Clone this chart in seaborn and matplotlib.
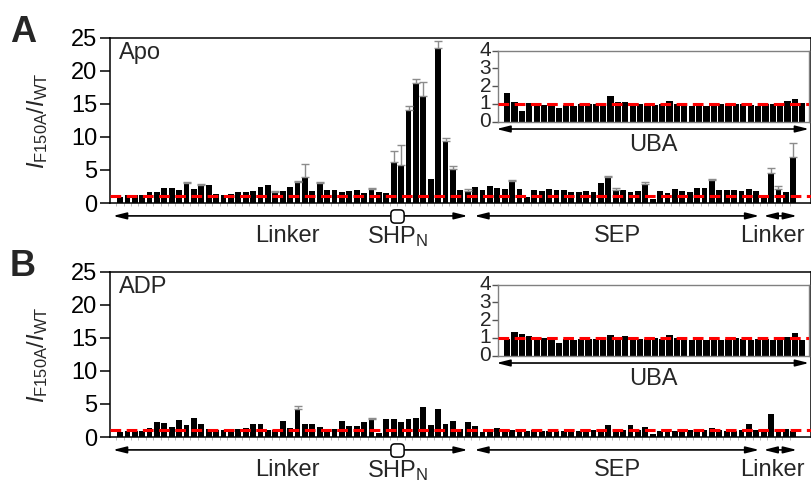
import numpy as np
import pandas as pd
import matplotlib
matplotlib.use("Agg")
import matplotlib.pyplot as plt
import matplotlib.transforms as mtransforms
import matplotlib.patches as mpatches
import seaborn as sns

# Per-residue intensity ratio I(F150A)/I(WT), full-length construct
apo_ratio = [0.9, 1.2, 1.2, 1.2, 1.65, 1.65, 2.25, 2.25, 1.9, 3.0,
             2.1, 2.75, 2.75, 1.4, 1.2, 1.35, 1.65, 1.65, 1.8, 2.35,
             2.65, 1.65, 1.75, 2.4, 3.1, 3.9, 1.85, 3.0, 1.9, 2.0,
             1.7, 1.75, 1.95, 1.55, 2.1, 1.6, 1.55, 6.2, 5.7, 14.1,
             18.1, 16.2, 3.6, 23.4, 9.4, 5.1, 1.9, 1.75, 2.35, 2.0,
             2.55, 2.25, 2.05, 3.25, 2.15, 0.9, 1.95, 1.75, 2.05, 1.9,
             1.9, 1.7, 1.6, 1.75, 1.65, 3.0, 4.0, 1.9, 1.9, 1.6,
             1.75, 2.9, 0.65, 1.75, 1.5, 2.1, 1.75, 1.6, 2.25, 2.25,
             3.4, 2.0, 2.0, 1.9, 1.75, 2.15, 1.85, 1.0, 4.5, 2.1,
             1.7, 6.9]
apo_err = [0, 0, 0, 0, 0, 0, 0, 0, 0, 0.2,
           0, 0.15, 0, 0, 0, 0, 0, 0, 0, 0,
           0, 0.2, 0, 0, 0.2, 2.0, 0, 0.2, 0, 0,
           0, 0, 0, 0, 0.2, 0, 0, 1.6, 3.0, 0.5,
           0.7, 2.1, 0, 1.1, 0.4, 0.5, 0, 0.3, 0, 0,
           0, 0, 0, 0.2, 0, 0, 0, 0, 0, 0,
           0, 0, 0, 0, 0, 0, 0.15, 0.3, 0, 0,
           0, 0.2, 0, 0, 0, 0, 0, 0, 0, 0,
           0.15, 0, 0, 0, 0, 0, 0, 0, 0.75, 0.4,
           0, 2.1]

adp_ratio = [0.76, 0.9, 0.9, 0.9, 1.3, 2.2, 2.1, 1.5, 2.5, 1.8,
             2.8, 2.0, 1.15, 1.05, 1.05, 1.05, 1.25, 1.35, 1.9, 1.9,
             1.0, 1.05, 2.35, 1.4, 4.2, 1.9, 1.9, 1.5, 1.25, 1.25,
             2.35, 1.6, 1.6, 2.3, 2.7, 0.65, 2.65, 2.7, 2.3, 2.7,
             2.9, 4.55, 1.75, 4.2, 1.9, 2.4, 1.15, 2.3, 1.65, 0.75,
             1.15, 1.4, 1.0, 1.0, 0.95, 0.95, 1.0, 0.95, 0.95, 0.95,
             0.9, 0.95, 0.95, 0.9, 1.0, 1.1, 1.85, 1.0, 1.1, 1.75,
             1.0, 1.55, 0.4, 0.95, 0.95, 0.95, 0.95, 1.0, 0.95, 1.0,
             1.35, 1.0, 0.95, 0.95, 1.0, 1.9, 1.0, 1.0, 3.4, 1.25,
             1.25, 0.9]
adp_err = [0] * 24 + [0.5] + [0] * 9 + [0.15] + [0] * 57

# UBA domain ratios (inset panels)
apo_uba = [1.6, 1.13, 0.62, 1.03, 1.0, 0.94, 0.94, 0.75, 0.94, 0.88,
           1.0, 1.0, 1.0, 1.0, 1.45, 1.09, 1.13, 1.03, 1.0, 1.0,
           0.94, 1.0, 1.16, 1.0, 1.0, 0.88, 0.94, 0.88, 0.94, 1.0,
           1.0, 1.0, 1.0, 0.94, 0.88, 1.0, 1.0, 1.0, 1.16, 1.3,
           1.03]
adp_uba = [0.96, 1.36, 1.22, 1.12, 0.96, 1.0, 0.96, 0.74, 0.92, 0.88,
           0.96, 0.92, 0.96, 0.88, 1.18, 1.0, 1.1, 0.96, 0.96, 0.96,
           1.0, 0.96, 1.14, 1.0, 0.96, 0.88, 0.96, 0.88, 0.96, 0.88,
           0.96, 1.0, 0.96, 0.88, 0.96, 0.96, 0.88, 1.0, 1.07, 1.29,
           0.87]

# Domain annotations below the main axis (residue index span, label centre)
domain_arrows = [(-0.95, 47.0), (47.9, 86.4), (87.0, 91.5)]
domain_labels = [("Linker", 22.6), ("SHP$_\\mathregular{N}$", 37.6),
                 ("SEP", 67.3), ("Linker", 88.2)]
shp_marker = 37.5

plt.rcParams["font.family"] = ["Liberation Sans", "DejaVu Sans"]
sns.set_style("white")
plt.rcParams["font.family"] = ["Liberation Sans", "DejaVu Sans"]
plt.rcParams["mathtext.fontset"] = "custom"
plt.rcParams["mathtext.rm"] = "Liberation Sans"
plt.rcParams["mathtext.it"] = "Liberation Sans:italic"

W, H = 812, 483
fig = plt.figure(figsize=(W / 100, H / 100), dpi=100)


def px_axes(left, top, right, bottom):
    return fig.add_axes([left / W, 1 - bottom / H, (right - left) / W, (bottom - top) / H])


RED = "#ff0000"
ERR = "#8c8c8c"
FS = 17
ARROW = "<|-|>,head_length=0.8,head_width=0.2"

# rounded-square marker for the SHP_N box
rounded_sq = mpatches.BoxStyle.Round(pad=0, rounding_size=0.3)(
    -0.5, -0.5, 1.0, 1.0, 1.0)


def draw_main(ax, values, errs, name):
    n = len(values)
    df = pd.DataFrame({"res": np.arange(n), "ratio": values})
    sns.barplot(data=df, x="res", y="ratio", color="black", width=0.78,
                linewidth=0, saturation=1, ax=ax, zorder=2)
    errs = np.asarray(errs, float)
    idx = np.nonzero(errs > 0)[0]
    vals = np.asarray(values, float)
    ax.errorbar(idx, vals[idx], yerr=[np.zeros(len(idx)), errs[idx]],
                fmt="none", ecolor=ERR, elinewidth=1.0, capsize=3,
                capthick=1.0, zorder=3)
    ax.axhline(1, color=RED, lw=2.2, ls=(0, (3.5, 1.8)), zorder=4)
    ax.set_xlim(-1.35, n - 1 + 2.4)
    ax.set_ylim(0, 25)
    ax.set_yticks([0, 5, 10, 15, 20, 25])
    ax.set_xticks(np.arange(n) - 0.5, minor=True)
    ax.set_xticks([])
    ax.tick_params(axis="y", which="major", direction="out", length=7,
                   width=1.1, labelsize=FS, pad=2, left=True, colors="black")
    ax.tick_params(axis="x", which="minor", direction="out", length=2,
                   width=0.6, color="#b0b0b0", bottom=True)
    ax.set_xlabel("")
    ax.set_ylabel("")
    for s in ax.spines.values():
        s.set_linewidth(1.1)
        s.set_color("black")
    ax.text(0.013, 0.905, name, transform=ax.transAxes, fontsize=FS,
            ha="left", va="center")

    tr = mtransforms.blended_transform_factory(ax.transData, ax.transAxes)
    y_arr = -0.078
    for x0, x1 in domain_arrows:
        ax.annotate("", xy=(x1, y_arr), xytext=(x0, y_arr), xycoords=tr,
                    textcoords=tr, annotation_clip=False,
                    arrowprops=dict(arrowstyle=ARROW, color="black", lw=1.2,
                                    shrinkA=0, shrinkB=0))
    ax.plot([shp_marker], [y_arr], transform=tr, marker=rounded_sq, ms=9.5,
            mfc="white", mec="black", mew=1.1, clip_on=False, zorder=6)
    for lab, xc in domain_labels:
        ax.text(xc, -0.2, lab, transform=tr, fontsize=FS, ha="center",
                va="center", clip_on=False)


def draw_inset(ax, values):
    n = len(values)
    df = pd.DataFrame({"res": np.arange(n), "ratio": values})
    sns.barplot(data=df, x="res", y="ratio", color="black", width=0.85,
                linewidth=0, saturation=1, ax=ax, zorder=2)
    ax.axhline(1, color=RED, lw=2.2, ls=(0, (3.5, 1.8)), zorder=4)
    ax.set_xlim(-1.25, n - 1 + 0.9)
    ax.set_ylim(0, 4)
    ax.set_yticks([0, 1, 2, 3, 4])
    ax.set_xticks([])
    ax.set_xlabel("")
    ax.set_ylabel("")
    ax.tick_params(axis="y", direction="out", length=4, width=1.0,
                   labelsize=15, pad=1, left=True, color="#555555")
    for lab in ax.get_yticklabels():
        lab.set_verticalalignment("center")
    for s in ax.spines.values():
        s.set_linewidth(1.0)
        s.set_color("#808080")
    ax.annotate("", xy=(1.0, -0.103), xytext=(-0.005, -0.103),
                xycoords="axes fraction", textcoords="axes fraction",
                annotation_clip=False,
                arrowprops=dict(arrowstyle=ARROW, color="black", lw=1.2,
                                shrinkA=0, shrinkB=0))
    ax.text(0.5, -0.33, "UBA", transform=ax.transAxes, fontsize=FS,
            ha="center", va="center")


ylab = r"$I_{\mathrm{F150A}}/I_{\mathrm{WT}}$"
for offset, letter, name, vals, errs, uba in [
        (0, "A", "Apo", apo_ratio, apo_err, apo_uba),
        (234, "B", "ADP", adp_ratio, adp_err, adp_uba)]:
    ax = px_axes(110, 37.5 + offset, 811, 203 + offset)
    draw_main(ax, vals, errs, name)
    ins = px_axes(498, 50.7 + offset, 809, 121.7 + offset)
    draw_inset(ins, uba)
    fig.text(23 / W, 1 - (33 + offset) / H, letter, fontsize=26,
             fontweight="bold", ha="center", va="center")
    fig.text(38 / W, 1 - (121 + offset) / H, ylab, fontsize=FS,
             rotation=90, ha="center", va="center")

fig.savefig("out.png", dpi=100)
